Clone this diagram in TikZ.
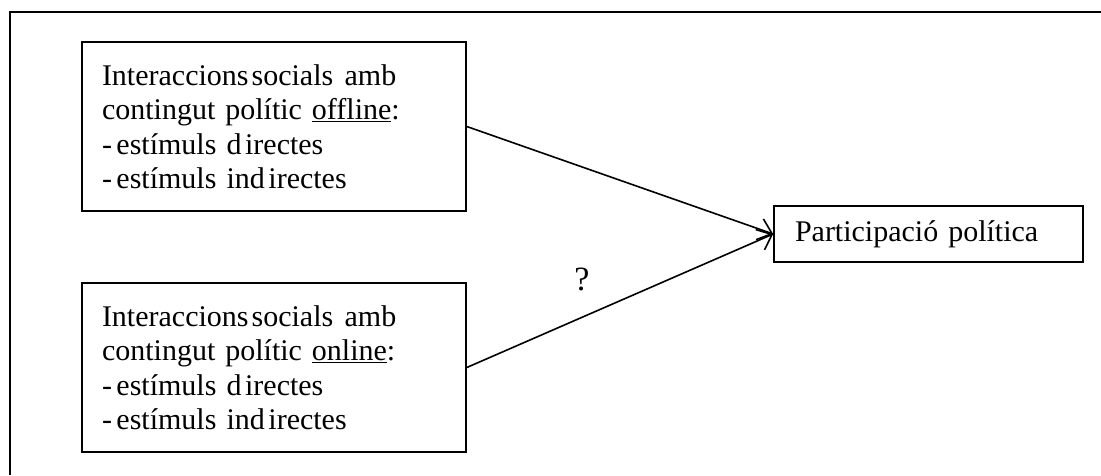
\documentclass[tikz,border=0pt]{standalone}
\usepackage{fontspec}
\setmainfont{Liberation Serif}
\usetikzlibrary{arrows.meta}
\begin{document}
\begin{tikzpicture}[x=1pt,y=-1pt,
  frameline/.style={line width=1.6pt},
  srcbox/.style={draw,line width=1.6pt,minimum width=384pt,minimum height=169pt,
    text width=344pt,inner xsep=20pt,inner ysep=0pt,align=left,
    font=\fontsize{30pt}{34.5pt}\selectfont},
  tgtbox/.style={draw,line width=1.6pt,minimum width=309pt,minimum height=56pt,
    text width=267pt,inner xsep=21pt,inner ysep=0pt,align=left,
    font=\fontsize{30pt}{34.5pt}\selectfont},
  link/.style={line width=1.6pt,-{Straight Barb[length=13pt,width=22pt,line width=1.6pt]}},
  lbl/.style={font=\fontsize{34pt}{38pt}\selectfont,inner sep=0pt}]
\useasboundingbox (0,0) rectangle (1101,475);
\coordinate (fA) at (10,475);
\coordinate (fB) at (10,12);
\coordinate (fC) at (1101,12);
\draw[frameline] (fA) -- (fB) -- (fC);
\node[srcbox] (off) at (274,126.5) {Interaccions\hspace{0.1em}socials\hspace{0.38em}amb\\contingut polític \underline{offline}:\\-\hspace{0.15em}estímuls d\hspace{0.12em}irectes\\-\hspace{0.15em}estímuls ind\hspace{0.12em}irectes};
\node[srcbox] (on) at (274,367.5) {Interaccions\hspace{0.1em}socials\hspace{0.38em}amb\\contingut polític \underline{online}:\\-\hspace{0.15em}estímuls d\hspace{0.12em}irectes\\-\hspace{0.15em}estímuls ind\hspace{0.12em}irectes};
\node[tgtbox] (part) at (928.5,234) {Participació política};
\draw[link] (off.east) -- (part.west);
\draw[link] (on.east) -- (part.west);
\node[lbl] (q) at (582,279) {?};
\end{tikzpicture}
\end{document}
